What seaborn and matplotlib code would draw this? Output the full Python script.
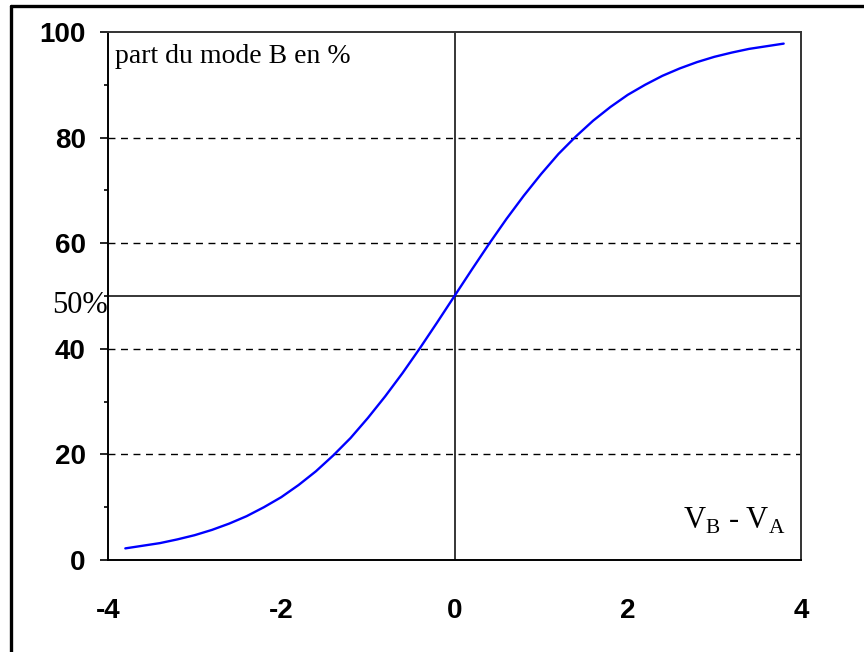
import matplotlib
matplotlib.use("Agg")
import matplotlib.pyplot as plt
from matplotlib.lines import Line2D
import seaborn as sns
import pandas as pd

# Data
vdiff = [-3.8, -3.6, -3.4, -3.2, -3.0, -2.8, -2.6, -2.4, -2.2, -2.0,
         -1.8, -1.6, -1.4, -1.2, -1.0, -0.8, -0.6, -0.4, -0.2, 0.0,
         0.2, 0.4, 0.6, 0.8, 1.0, 1.2, 1.4, 1.6, 1.8, 2.0,
         2.2, 2.4, 2.6, 2.8, 3.0, 3.2, 3.4, 3.6, 3.8]
part_b = [2.2, 2.7, 3.2, 3.9, 4.7, 5.7, 6.9, 8.3, 10.0, 11.9,
          14.2, 16.8, 19.8, 23.1, 26.9, 31.0, 35.4, 40.1, 45.0, 50.0,
          55.0, 59.9, 64.6, 69.0, 73.1, 76.9, 80.2, 83.2, 85.8, 88.1,
          90.0, 91.7, 93.1, 94.3, 95.3, 96.1, 96.8, 97.3, 97.8]
x_ticks = [-4, -2, 0, 2, 4]
x_minor = [-3, -1, 1, 3]
y_ticks = [0, 20, 40, 60, 80, 100]
y_minor = [10, 30, 50, 70, 90]
grid_levels = [20, 40, 60, 80]

sns.set_style("white")
plt.rcParams['font.family'] = ['Liberation Sans', 'DejaVu Sans']
plt.rcParams['text.color'] = 'black'
plt.rcParams['xtick.color'] = 'black'
plt.rcParams['ytick.color'] = 'black'
plt.rcParams['xtick.labelcolor'] = 'black'
plt.rcParams['ytick.labelcolor'] = 'black'

fig = plt.figure(figsize=(8.64, 6.52), dpi=100)
ax = fig.add_axes([108/864, 1-560/652, (801-108)/864, (560-32)/652])

df = pd.DataFrame({"x": vdiff, "y": part_b})
sns.lineplot(data=df, x="x", y="y", ax=ax, color="#0000FF", linewidth=1.7)

ax.set_xlim(-4, 4)
ax.set_ylim(0, 100)
ax.set_xlabel("")
ax.set_ylabel("")

for g in grid_levels:
    ax.axhline(g, color="black", linewidth=1.0, linestyle=(0, (5, 4)), zorder=1)
ax.axhline(50, color="black", linewidth=1.1, zorder=1)
ax.axvline(0, color="black", linewidth=1.1, zorder=1)

ax.set_xticks(x_ticks)
ax.set_xticklabels([str(t) for t in x_ticks])
ax.set_xticks(x_minor, minor=True)
ax.set_yticks(y_ticks)
ax.set_yticklabels([str(t) for t in y_ticks])
ax.set_yticks(y_minor, minor=True)

ax.tick_params(axis="x", which="major", direction="inout", length=10, width=1.2,
               pad=22, labelsize=20, color="black", labelcolor="black")
ax.tick_params(axis="x", which="minor", direction="inout", length=5, width=1.2, color="black")
ax.tick_params(axis="y", which="major", direction="out", length=6, width=1.2,
               pad=10, labelsize=20, color="black", labelcolor="black", left=True)
ax.tick_params(axis="y", which="minor", direction="out", length=3, width=1.2, color="black", left=True)
for lab in ax.get_xticklabels() + ax.get_yticklabels():
    lab.set_fontweight("bold")

for side in ["left", "bottom"]:
    ax.spines[side].set_color("black")
    ax.spines[side].set_linewidth(1.4)
for side in ["top", "right"]:
    ax.spines[side].set_visible(True)
    ax.spines[side].set_color("#333333")
    ax.spines[side].set_linewidth(1.4)

serif = ['Liberation Serif', 'DejaVu Serif']
ax.text(0.01, 0.978, "part du mode B en %", transform=ax.transAxes, ha="left", va="top",
        fontsize=20, family=serif, color="black")
ax.text(-4.0, 48.2, "50%", ha="right", va="center", fontsize=22, family=serif,
        color="black", clip_on=False)
ax.text(0.977, 0.045, r"V$_\mathregular{B}$ - V$_\mathregular{A}$", transform=ax.transAxes,
        ha="right", va="bottom", fontsize=22, family=serif, color="black")

# outer frame (left and top edges)
fig.add_artist(Line2D([11/864, 11/864], [0, 1-6/652], transform=fig.transFigure,
                      color="black", linewidth=2.4))
fig.add_artist(Line2D([11/864, 1], [1-6/652, 1-6/652], transform=fig.transFigure,
                      color="black", linewidth=2.4))

fig.savefig("out.png", dpi=100)
